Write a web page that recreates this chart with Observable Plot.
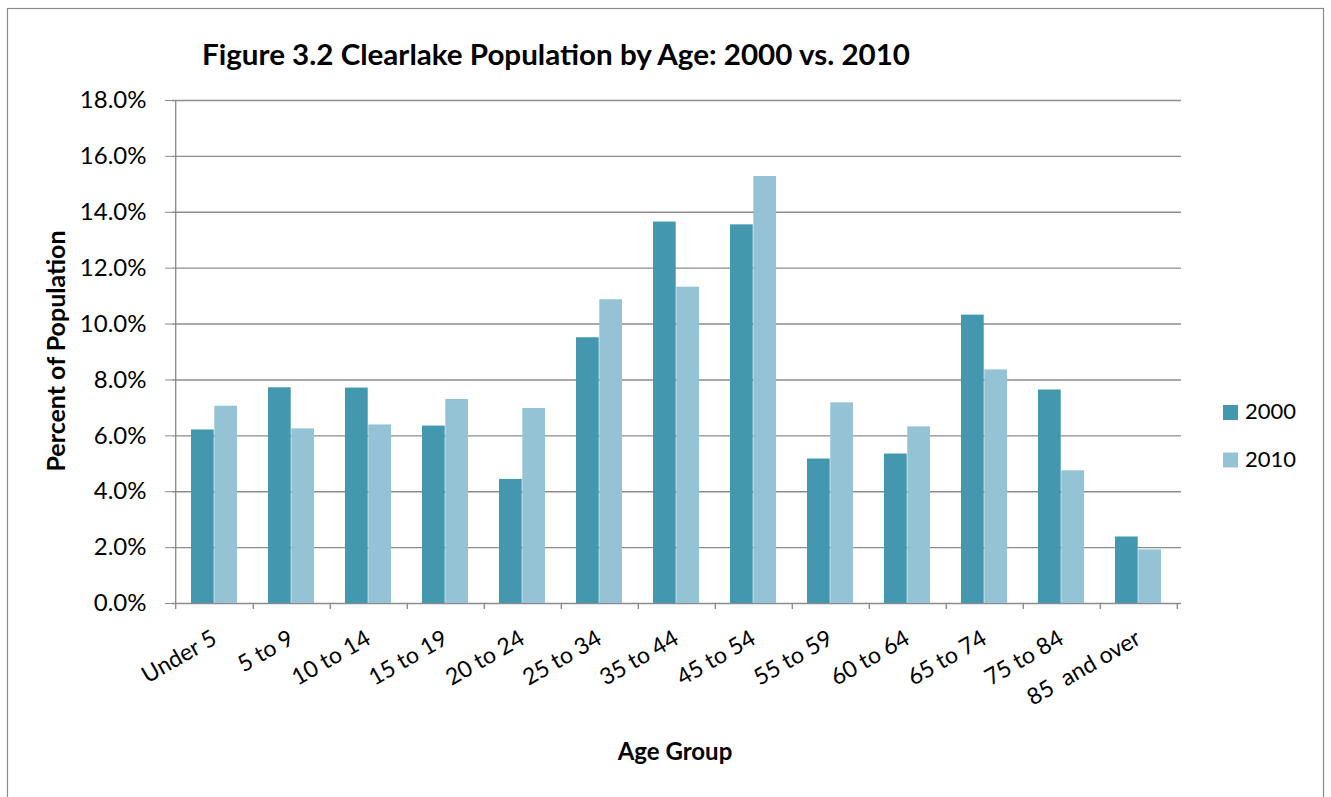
<!DOCTYPE html>
<html>
<head>
<meta charset="utf-8">
<script src="https://cdn.jsdelivr.net/npm/d3@7"></script>
<script src="https://cdn.jsdelivr.net/npm/@observablehq/plot@0.6"></script>
<style>
  html, body { margin: 0; padding: 0; background: #fff; }
  #wrap { position: relative; width: 1331px; height: 797px; overflow: hidden; font-family: Lato, "Open Sans", sans-serif; }
  #wrap svg { position: absolute; left: 0; top: 0; }
  #wrap svg text { white-space: pre; }
</style>
</head>
<body>
<div id="wrap"></div>
<script>
// ---- data ----
const ages = ["Under 5", "5 to 9", "10 to 14", "15 to 19", "20 to 24", "25 to 34", "35 to 44",
              "45 to 54", "55 to 59", "60 to 64", "65 to 74", "75 to 84", "85  and over"];
const pct2000 = [6.21, 7.72, 7.71, 6.35, 4.44, 9.51, 13.65, 13.55, 5.17, 5.35, 10.32, 7.64, 2.38];
const pct2010 = [7.06, 6.25, 6.39, 7.30, 6.98, 10.87, 11.32, 15.28, 7.18, 6.32, 8.36, 4.75, 1.92];
const years = ["2000", "2010"];
const yearColors = ["#4398B0", "#94C3D5"];
const yTicks = [0, 2, 4, 6, 8, 10, 12, 14, 16, 18];
const titleText = "Figure 3.2 Clearlake Population by Age: 2000 vs. 2010";
const xLabel = "Age Group";
const yLabel = "Percent of Population";

// ---- layout ----
const W = 1331, H = 797;
const mL = 172, mR = 150, mT = 100, mB = 194;
const innerW = W - mL - mR;
const pIn = 0.4, pOut = 0.2;
const step = innerW / (ages.length - pIn + 2 * pOut);
const bw = step * (1 - pIn);
const gridColor = "#8c8c8c";

const rows = ages.map((a, i) => ({age: a, v2000: pct2000[i], v2010: pct2010[i]}));

const chart = Plot.plot({
  width: W, height: H,
  marginLeft: mL, marginRight: mR, marginTop: mT, marginBottom: mB,
  style: {fontFamily: "Lato, 'Open Sans', sans-serif", fontSize: "23px", color: "#000", background: "transparent", overflow: "visible"},
  x: {domain: ages, paddingInner: pIn, paddingOuter: pOut, label: null, tickSize: 0, tickPadding: 33, tickRotate: -30},
  y: {domain: [0, 18], ticks: yTicks, tickFormat: d => d.toFixed(1) + "%", label: null, tickSize: 7, tickPadding: 19},
  marks: [
    Plot.ruleY(yTicks, {stroke: gridColor, strokeWidth: 1.4}),
    Plot.barY(rows, {x: "age", y: "v2000", fill: yearColors[0], insetRight: bw / 2}),
    Plot.barY(rows, {x: "age", y: "v2010", fill: yearColors[1], insetLeft: bw / 2}),
    Plot.ruleX([ages[0]], {x: d => d, dx: -step / 2, y1: 18, y2: 0, insetBottom: -6, stroke: gridColor, strokeWidth: 1.4}),
    Plot.ruleX(ages, {x: d => d, dx: step / 2, y1: 0, y2: 0, insetBottom: -6, stroke: gridColor, strokeWidth: 1.4})
  ]
});
chart.querySelectorAll("[aria-label='y-axis tick'] path, [aria-label='y-axis'] line").forEach(e => e.setAttribute("stroke", gridColor));
chart.querySelectorAll("[aria-label^='y-axis']").forEach(e => e.setAttribute("font-size", "24"));
document.getElementById("wrap").appendChild(chart);

// ---- overlay: frame, title, axis titles, legend ----
const ov = d3.select("#wrap").append("svg").attr("width", W).attr("height", H)
  .style("font-family", "Lato, 'Open Sans', sans-serif");
ov.append("rect").attr("x", 7.5).attr("y", 8.5).attr("width", 1316).attr("height", 820)
  .attr("fill", "none").attr("stroke", "#8a8a8a").attr("stroke-width", 1.2);
ov.append("text").attr("x", 202).attr("y", 65).attr("font-size", 29).attr("font-weight", "bold")
  .attr("textLength", 708).attr("lengthAdjust", "spacingAndGlyphs")
  .text(titleText);
ov.append("text").attr("x", 675).attr("y", 760).attr("text-anchor", "middle")
  .attr("font-size", 24).attr("font-weight", "bold").text(xLabel);
ov.append("text").attr("transform", "translate(65,351) rotate(-90)").attr("text-anchor", "middle")
  .attr("font-size", 25).attr("font-weight", "bold").text(yLabel);
const lg = ov.append("g");
years.forEach((yr, i) => {
  const y0 = 405 + i * 47.5;
  lg.append("rect").attr("x", 1223).attr("y", y0).attr("width", 15).attr("height", 15).attr("fill", yearColors[i]);
  lg.append("text").attr("x", 1245).attr("y", y0 + 14).attr("font-size", 22).text(yr);
});
</script>
</body>
</html>
